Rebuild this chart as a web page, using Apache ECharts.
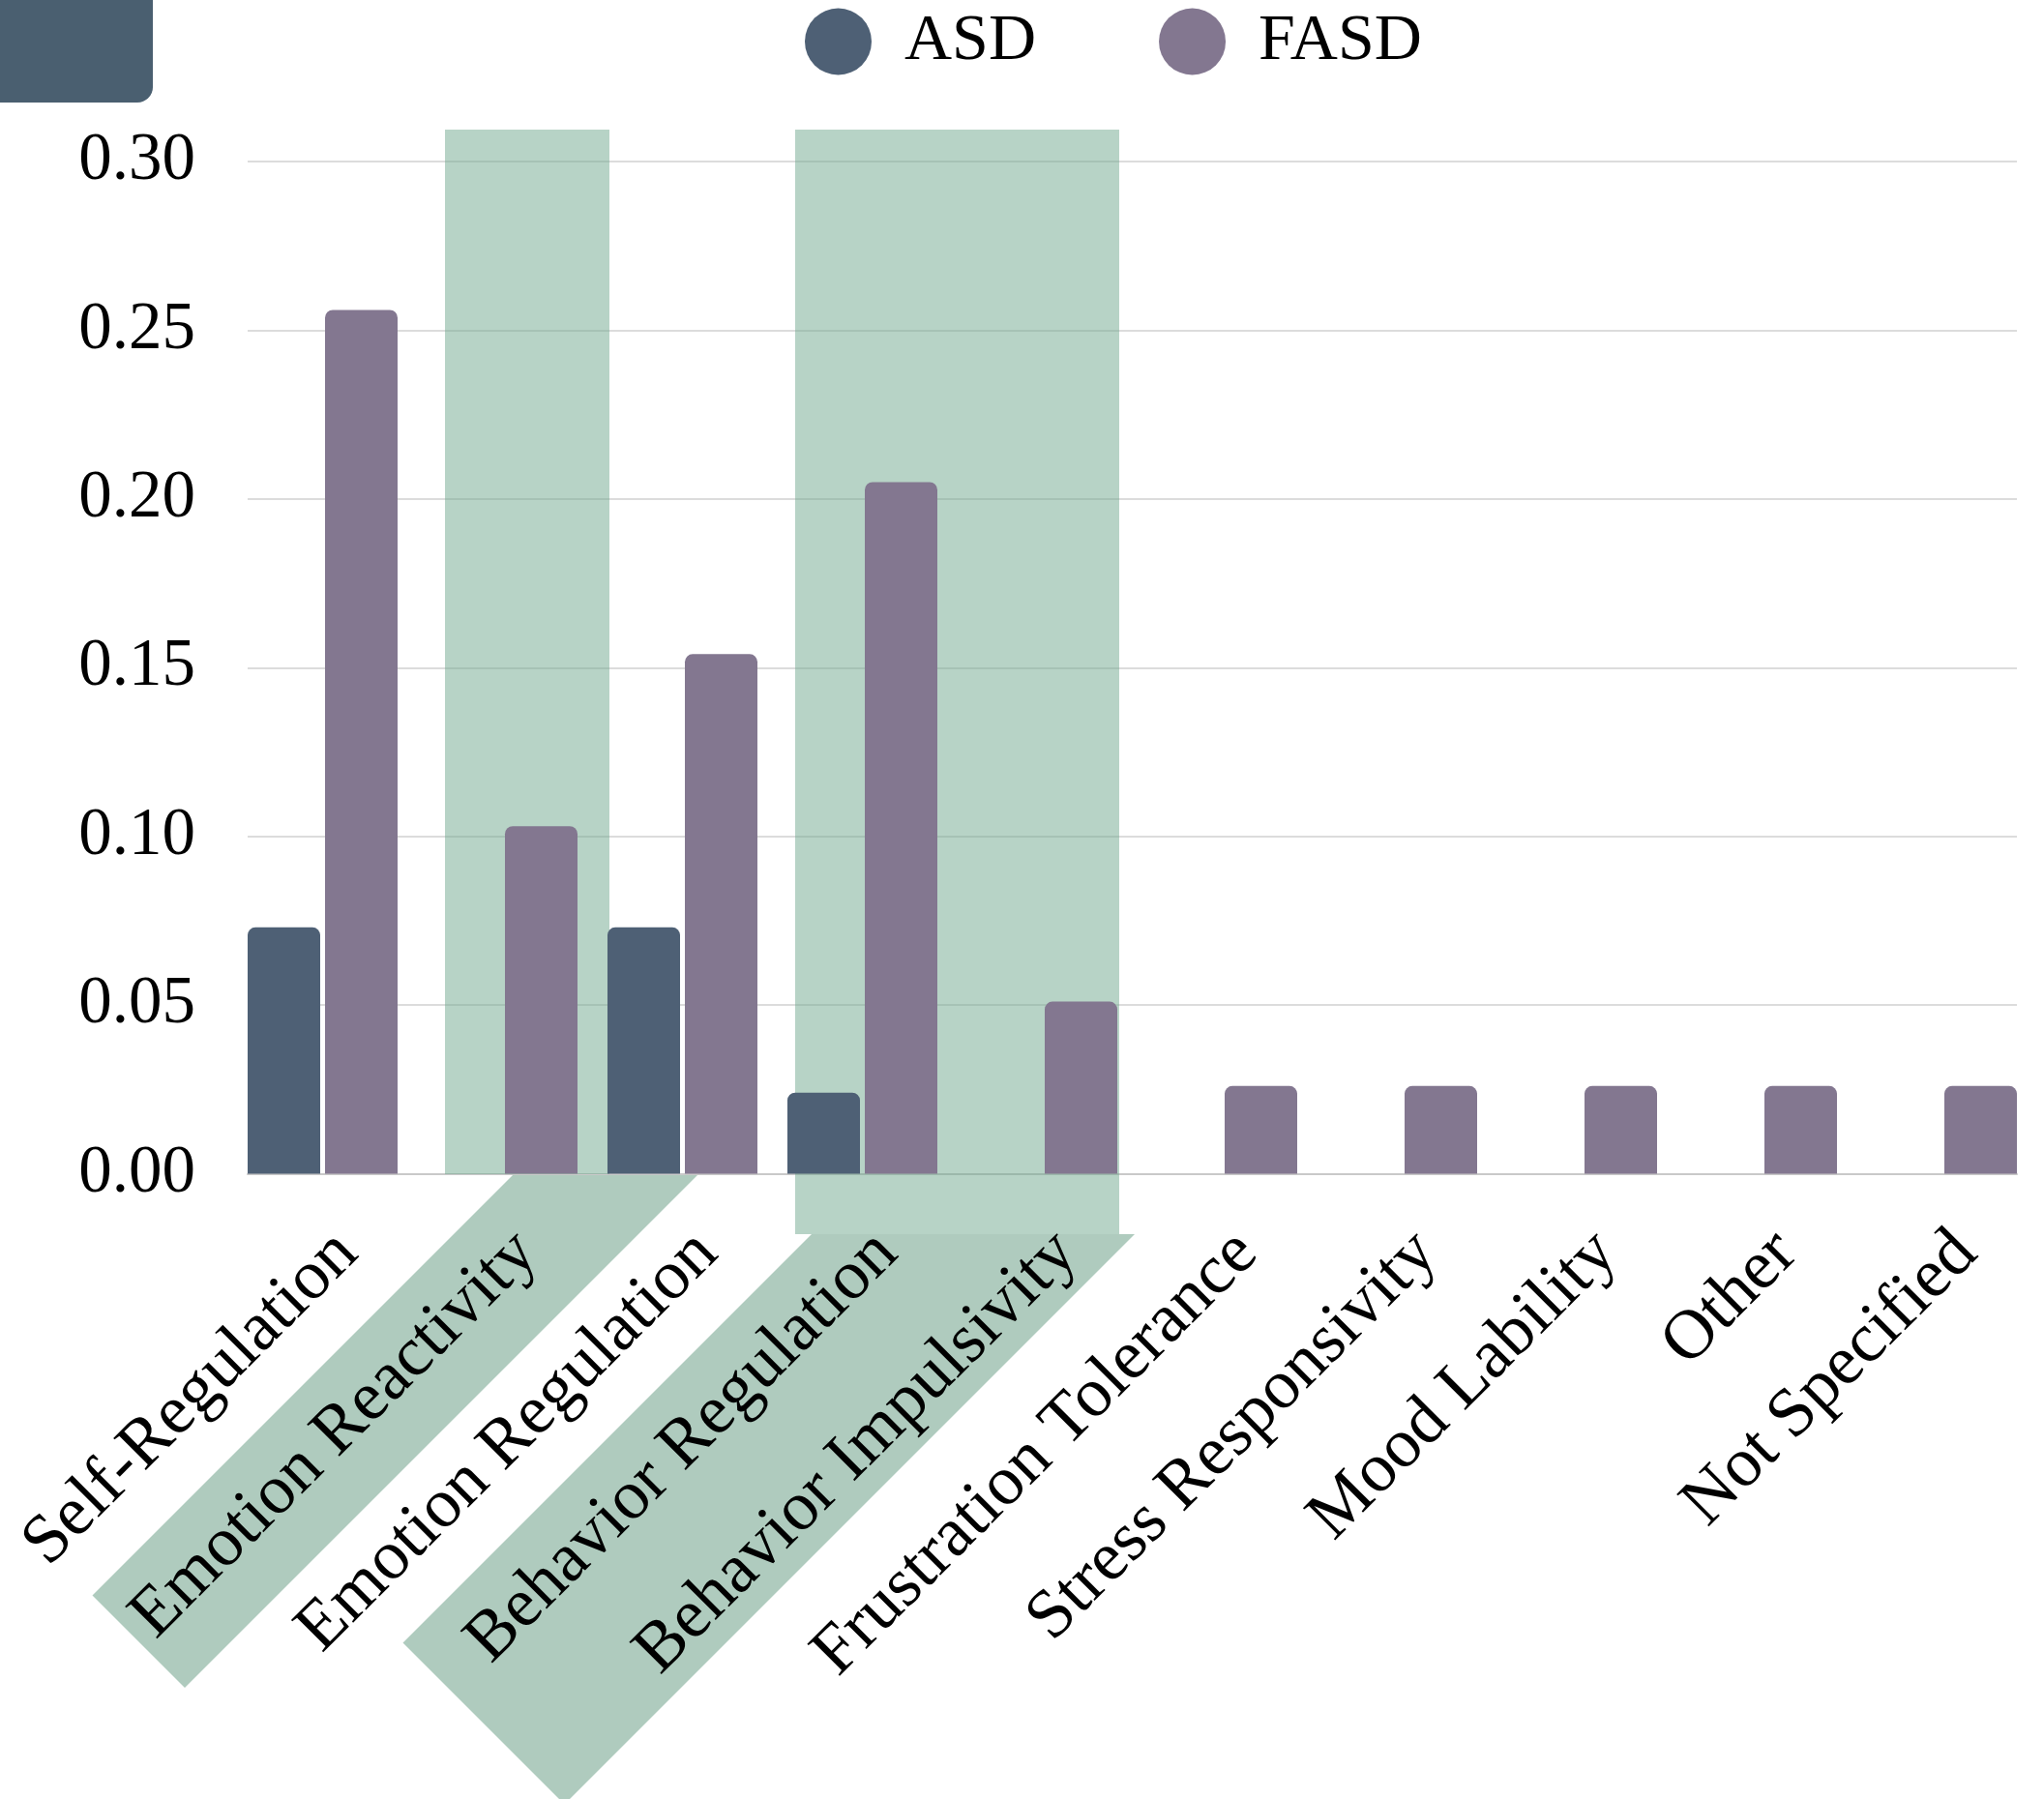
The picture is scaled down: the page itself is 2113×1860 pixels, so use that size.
<!DOCTYPE html>
<html>
<head>
<meta charset="utf-8">
<script src="https://cdn.jsdelivr.net/npm/echarts@6/dist/echarts.min.js"></script>
<style>
  html, body { margin: 0; padding: 0; background: #ffffff; }
  #chart { width: 2113px; height: 1860px; }
</style>
</head>
<body>
<div id="chart"></div>
<script>
// ---- data ----
const categories = ['Self-Regulation', 'Emotion Reactivity', 'Emotion Regulation', 'Behavior Regulation',
  'Behavior Impulsivity', 'Frustration Tolerance', 'Stress Responsivity', 'Mood Lability', 'Other', 'Not Specified'];
const seriesNames = ['ASD', 'FASD'];
const asdValues = [0.073, 0, 0.073, 0.024, 0, 0, 0, 0, 0, 0];
const fasdValues = [0.256, 0.103, 0.154, 0.205, 0.051, 0.026, 0.026, 0.026, 0.026, 0.026];
const yMin = 0, yMax = 0.30, yStep = 0.05;

// ---- styles ----
const FONT = "'Liberation Serif', 'Times New Roman', serif";
const COLORS = { ASD: '#4e6075', FASD: '#837790' };
const GREEN = 'rgba(111,167,141,0.5)';
const GREEN_LABEL = '#afcbbe';

const chart = echarts.init(document.getElementById('chart'), null, { renderer: 'canvas' });

const option = {
  backgroundColor: '#ffffff',
  animation: false,
  textStyle: { fontFamily: FONT },
  legend: {
    data: seriesNames,
    left: 832,
    top: 8.5,
    padding: 0,
    icon: 'circle',
    itemWidth: 69,
    itemHeight: 69,
    itemGap: 127,
    textStyle: { fontFamily: FONT, fontSize: 68, color: '#000', padding: [16, 0, 0, 29] }
  },
  grid: [
    { left: 240.5, right: 12.5, top: 167, bottom: 646.5, containLabel: false },
    { left: 256, right: 28, top: 167, bottom: 646.5, containLabel: false }
  ],
  xAxis: [
    {
      type: 'category', gridIndex: 0, data: categories, z: 5,
      axisLine: { show: false }, axisTick: { show: false },
      axisLabel: {
        interval: 0, rotate: 45, margin: 46, verticalAlign: 'top',
        fontFamily: FONT, fontSize: 72, color: '#000'
      }
    },
    {
      type: 'category', gridIndex: 1, data: categories, z: 0,
      axisLine: { show: true, lineStyle: { color: '#c9c9c9', width: 2 } },
      axisTick: { show: false }, axisLabel: { show: false }
    }
  ],
  yAxis: [
    {
      type: 'value', gridIndex: 0, min: yMin, max: yMax, interval: yStep,
      axisLine: { show: false }, axisTick: { show: false }, axisLabel: { show: false },
      splitLine: { show: false }
    },
    {
      type: 'value', gridIndex: 1, min: yMin, max: yMax, interval: yStep, z: 0,
      axisLine: { show: false }, axisTick: { show: false },
      axisLabel: {
        margin: 54, fontFamily: FONT, fontSize: 69, color: '#000', padding: [16, 0, 0, 0],
        formatter: v => v.toFixed(2)
      },
      splitLine: { show: true, lineStyle: { color: '#dcdcdc', width: 2 } }
    }
  ],
  graphic: [
    { type: 'rect', z: 1, shape: { x: 0, y: 0, width: 158, height: 106, r: [0, 0, 16, 0] }, style: { fill: '#4a5f70' } },
    { type: 'rect', z: 1, shape: { x: 460, y: 134, width: 170, height: 1080 }, style: { fill: GREEN } },
    { type: 'rect', z: 1, shape: { x: 822, y: 134, width: 335, height: 1142 }, style: { fill: GREEN } },
    { type: 'polygon', z: 1, shape: { points: [[530, 1215], [721, 1215], [191, 1745], [95.5, 1649.5]] }, style: { fill: GREEN_LABEL } },
    { type: 'polygon', z: 1, shape: { points: [[839, 1276], [1173, 1276], [583.5, 1865.5], [416.5, 1698.5]] }, style: { fill: GREEN_LABEL } }
  ],
  series: [
    {
      name: 'ASD', type: 'bar', xAxisIndex: 0, yAxisIndex: 0, z: 2,
      data: asdValues, barWidth: 75, barGap: '6.67%',
      itemStyle: { color: COLORS.ASD, borderRadius: [8, 8, 0, 0] }
    },
    {
      name: 'FASD', type: 'bar', xAxisIndex: 0, yAxisIndex: 0, z: 2,
      data: fasdValues, barWidth: 75, barGap: '6.67%',
      itemStyle: { color: COLORS.FASD, borderRadius: [8, 8, 0, 0] }
    }
  ]
};
chart.setOption(option);
</script>
</body>
</html>
